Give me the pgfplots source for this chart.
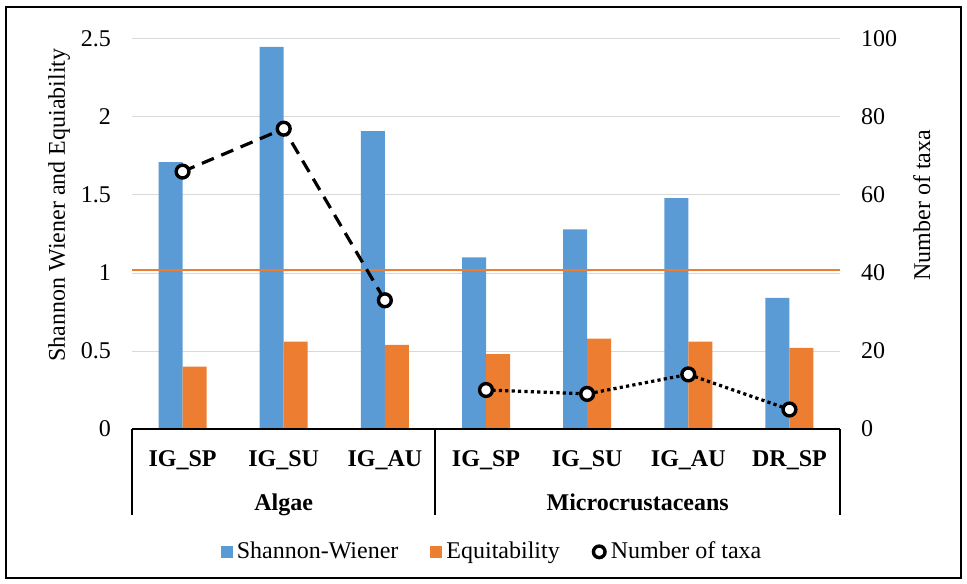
\documentclass[border=0pt]{standalone}
\usepackage{fontspec}
\setmainfont{Liberation Serif}
\usepackage{pgfplots}
\pgfplotsset{compat=1.18}
\definecolor{swblue}{HTML}{5B9BD5}
\definecolor{eqorange}{HTML}{ED7D31}
\definecolor{gridgray}{HTML}{D9D9D9}

\begin{document}
\begin{tikzpicture}[font=\fontsize{12}{14.4}\selectfont]
\useasboundingbox (-66pt,-77pt) rectangle (417.5pt,214.5pt);
\draw[line width=1.2pt] (-63pt,-74.5pt) rectangle (414.5pt,211pt);
\begin{axis}[
  at={(0,0)}, anchor=south west,
  scale only axis, width=354pt, height=195pt,
  xmin=-0.5, xmax=6.5, ymin=0, ymax=2.5,
  ytick={0,0.5,1,1.5,2,2.5},
  xtick={0,1,2,3,4,5,6},
  xticklabels={IG\_SP,IG\_SU,IG\_AU,IG\_SP,IG\_SU,IG\_AU,DR\_SP},
  x tick label style={font=\fontsize{12}{14.4}\selectfont\bfseries, anchor=base, yshift=-18.5pt},
  major tick length=0,
  axis y line*=left, axis x line*=bottom, axis line style={draw=none},
  ymajorgrids, major grid style={gridgray, line width=0.5pt},
  /pgf/number format/assume math mode=true,
  yticklabel style={xshift=-7pt},
  ylabel={Shannon Wiener and Equiability},
  ylabel style={at={(axis description cs:-0.103,0.574)}, anchor=center},
  clip=false,
  legend style={at={(axis description cs:0.51,-0.315)}, anchor=center, draw=none, fill=none,
    /tikz/every even column/.append style={column sep=14pt}},
  legend columns=3, legend cell align=left,
]
\addplot[ybar, bar width=12pt, bar shift=-6pt, fill=swblue, draw=none,
  legend image code/.code={\fill[swblue] (0pt,-3pt) rectangle (6pt,3pt);}]
  coordinates {(0,1.71) (1,2.45) (2,1.91) (3,1.10) (4,1.28) (5,1.48) (6,0.84)};
\addlegendentry{Shannon-Wiener}
\addplot[ybar, bar width=12pt, bar shift=6pt, fill=eqorange, draw=none,
  legend image code/.code={\fill[eqorange] (0pt,-3pt) rectangle (6pt,3pt);}]
  coordinates {(0,0.40) (1,0.56) (2,0.54) (3,0.48) (4,0.58) (5,0.56) (6,0.52)};
\addlegendentry{Equitability}
\addplot[eqorange, line width=1.2pt, forget plot] coordinates {(-0.5,1.02) (6.5,1.02)};
\addlegendimage{legend image code/.code={\draw[black, line width=1.7pt, fill=white] (3pt,0pt) circle (2.9pt);}}
\addlegendentry{Number of taxa}
\draw[line width=1pt] (axis description cs:0,0) -- (axis description cs:1,0);
\draw[line width=1pt] (axis description cs:0,0) -- ([yshift=-43pt]axis description cs:0,0);
\draw[line width=1pt] (axis description cs:0.428571,0) -- ([yshift=-43pt]axis description cs:0.428571,0);
\draw[line width=1pt] (axis description cs:1,0) -- ([yshift=-43pt]axis description cs:1,0);
\node[font=\fontsize{12}{14.4}\selectfont\bfseries, anchor=base] at ([yshift=-40.5pt]axis cs:1,0) {Algae};
\node[font=\fontsize{12}{14.4}\selectfont\bfseries, anchor=base] at ([yshift=-40.5pt]axis cs:4.5,0) {Microcrustaceans};
\end{axis}
\begin{axis}[
  at={(0,0)}, anchor=south west,
  scale only axis, width=354pt, height=195pt,
  xmin=-0.5, xmax=6.5, ymin=0, ymax=100,
  ytick={0,20,40,60,80,100},
  axis x line=none, axis y line*=right, axis line style={draw=none},
  major tick length=0,
  /pgf/number format/assume math mode=true,
  yticklabel style={xshift=7pt},
  ylabel={Number of taxa},
  ylabel style={at={(axis description cs:1.1154,0.574)}, anchor=center, rotate=0},
  clip=false,
]
\addplot[black, line width=1.6pt, dash pattern=on 6.5pt off 4pt,
  mark=*, mark size=3.2pt, mark options={solid, fill=white, draw=black, line width=1.7pt}]
  coordinates {(0,66) (1,77) (2,33)};
\addplot[black, line width=1.6pt, dash pattern=on 1.6pt off 1.6pt,
  mark=*, mark size=3.2pt, mark options={solid, fill=white, draw=black, line width=1.7pt}]
  coordinates {(3,10) (4,9) (5,14) (6,5)};
\end{axis}
\end{tikzpicture}
\end{document}
